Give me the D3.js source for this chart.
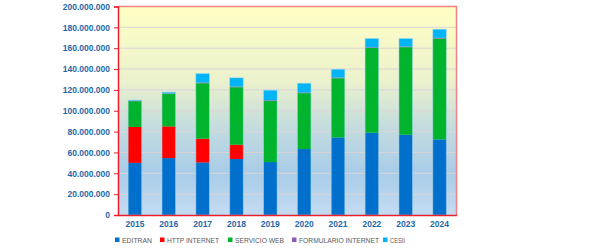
<!DOCTYPE html>
<html>
<head>
<meta charset="utf-8">
<script src="https://cdn.jsdelivr.net/npm/d3@7"></script>
<style>
  body { margin: 0; background: #fff; }
  svg text { font-family: "Liberation Sans", Arial, sans-serif; }
</style>
</head>
<body>
<div id="chart"></div>
<script>
// data, in millions
var years = ["2015", "2016", "2017", "2018", "2019", "2020", "2021", "2022", "2023", "2024"];
var seriesNames = ["EDITRAN", "HTTP INTERNET", "SERVICIO WEB", "FORMULARIO INTERNET", "CESII"];
var editran = [50, 54.6, 50.4, 53.7, 50.8, 63.3, 74.4, 78.9, 77, 72.5];
var httpInternet = [34.4, 30.4, 22.8, 13.7, 0, 0, 0, 0, 0, 0];
var servicioWeb = [24.8, 31.2, 53.2, 55.2, 58.7, 53.6, 56.8, 81.4, 84, 96.8];
var formulario = [0.4, 0.4, 0.6, 0.6, 0.6, 0.6, 0.6, 0.6, 0.6, 0.6];
var cesii = [0.6, 1.2, 8.7, 8.4, 9.6, 8.9, 8.0, 8.4, 7.7, 8.3];
var yTicks = [0, 20, 40, 60, 80, 100, 120, 140, 160, 180, 200];

var colors = ["#0070cc", "#ff0000", "#00b42e", "#8c5ab4", "#00b4f5"];

var width = 600, height = 250;
var margin = {top: 6.5, right: 143.5, bottom: 35, left: 118};
var w = width - margin.left - margin.right;
var h = height - margin.top - margin.bottom;

var rows = years.map(function(y, i) {
  return {year: y, s0: editran[i], s1: httpInternet[i], s2: servicioWeb[i], s3: formulario[i], s4: cesii[i]};
});
var stack = d3.stack().keys(["s0", "s1", "s2", "s3", "s4"])(rows);

var x = d3.scaleBand().domain(years).range([0, w]).paddingInner(0.6).paddingOuter(0.3);
var y = d3.scaleLinear().domain([0, 200]).range([h, 0]);

var svg = d3.select("#chart").append("svg")
    .attr("width", width)
    .attr("height", height);

var defs = svg.append("defs");
var grad = defs.append("linearGradient")
    .attr("id", "bg")
    .attr("x1", 0).attr("y1", 0).attr("x2", 0).attr("y2", 1);
grad.append("stop").attr("offset", "0%").attr("stop-color", "#ffffc4");
grad.append("stop").attr("offset", "35%").attr("stop-color", "#ecf2cc");
grad.append("stop").attr("offset", "60%").attr("stop-color", "#c0dae0");
grad.append("stop").attr("offset", "80%").attr("stop-color", "#a8cce8");
grad.append("stop").attr("offset", "100%").attr("stop-color", "#c4dcf2");

var g = svg.append("g")
    .attr("transform", "translate(" + margin.left + "," + margin.top + ")");

g.append("rect")
    .attr("width", w)
    .attr("height", h)
    .attr("fill", "url(#bg)");

// gridlines
g.selectAll(".grid")
    .data(yTicks.slice(1, -1))
  .enter().append("line")
    .attr("class", "grid")
    .attr("x1", 0).attr("x2", w)
    .attr("y1", function(d) { return y(d); })
    .attr("y2", function(d) { return y(d); })
    .attr("stroke", "#dcd4d8")
    .attr("stroke-width", 1);

// bars
g.selectAll(".series")
    .data(stack)
  .enter().append("g")
    .attr("class", "series")
    .attr("fill", function(d, i) { return colors[i]; })
  .selectAll("rect")
    .data(function(d) { return d; })
  .enter().append("rect")
    .attr("x", function(d) { return x(d.data.year); })
    .attr("width", x.bandwidth())
    .attr("y", function(d) { return y(d[1]); })
    .attr("height", function(d) { return Math.max(0, y(d[0]) - y(d[1])); });

// bar outline
g.selectAll(".outline")
    .data(stack[4])
  .enter().append("rect")
    .attr("class", "outline")
    .attr("x", function(d) { return x(d.data.year); })
    .attr("width", x.bandwidth())
    .attr("y", function(d) { return y(d[1]); })
    .attr("height", function(d) { return h - y(d[1]); })
    .attr("fill", "none")
    .attr("stroke", "#a8d8ee")
    .attr("stroke-opacity", 0.6)
    .attr("stroke-width", 0.8);

// frame: top and right light red
g.append("path")
    .attr("d", "M0,0H" + w + "V" + h)
    .attr("fill", "none")
    .attr("stroke", "#f28080")
    .attr("stroke-width", 1.5);

// y axis
var yAxis = g.append("g")
    .call(d3.axisLeft(y).tickValues(yTicks).tickSize(4).tickPadding(4)
      .tickFormat(function(d) { return d === 0 ? "0" : d3.format(",")(d * 1e6).replace(/,/g, "."); }));
yAxis.select(".domain").attr("stroke", "#e8202c").attr("stroke-width", 1.5);
yAxis.selectAll(".tick line").attr("stroke", "#e8202c");
yAxis.selectAll("text")
    .attr("fill", "#1f67a6")
    .attr("font-size", "8.5px")
    .attr("font-weight", "bold");

// x axis
var xAxis = g.append("g")
    .attr("transform", "translate(0," + h + ")")
    .call(d3.axisBottom(x).tickSize(0).tickPadding(6));
xAxis.select(".domain").attr("stroke", "#e8202c").attr("stroke-width", 1.5);
xAxis.selectAll("text")
    .attr("fill", "#1f67a6")
    .attr("font-size", "8.5px")
    .attr("font-weight", "bold");

// legend
var legendX = [115, 160, 228, 292, 383];
var legendW = [30, 52, 49, 80, 15];
var legend = svg.selectAll(".legend")
    .data(seriesNames)
  .enter().append("g")
    .attr("class", "legend")
    .attr("transform", function(d, i) { return "translate(" + legendX[i] + ",242)"; });
legend.append("rect")
    .attr("x", 0).attr("y", -4.5)
    .attr("width", 4.5).attr("height", 4.5)
    .attr("fill", function(d, i) { return colors[i]; });
legend.append("text")
    .attr("x", 7)
    .attr("y", 0.5)
    .attr("font-size", "7px")
    .attr("fill", "#595959")
    .attr("textLength", function(d, i) { return legendW[i]; })
    .attr("lengthAdjust", "spacingAndGlyphs")
    .text(function(d) { return d; });
</script>
</body>
</html>
